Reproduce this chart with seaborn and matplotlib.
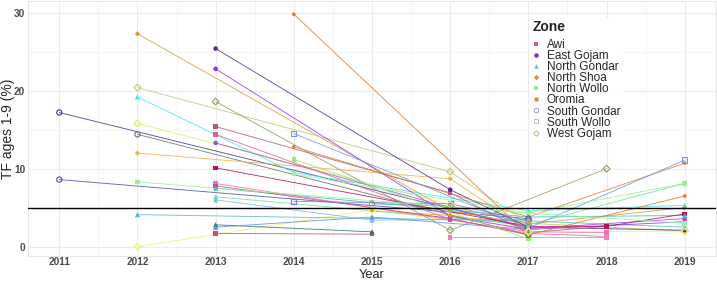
import matplotlib
matplotlib.use("Agg")
import matplotlib.pyplot as plt
from matplotlib.lines import Line2D
from matplotlib.ticker import MultipleLocator
import seaborn as sns
import pandas as pd

# ---------------- data ----------------
district = ["SG1", "SG2", "SG3", "SG4", "NS1", "NS2", "NS3", "WG1", "WG2", "WG3", "WG4",
            "NG1", "NG2", "NG3", "NG4", "NG5", "NG6", "NG7", "EG1", "EG2", "EG3",
            "AW1", "AW2", "AW3", "AW4", "AW5", "AW6", "AW7", "OR1", "OR2", "SW1", "SW2",
            "NW1", "NW2", "NW3"]
zone = ["South Gondar", "South Gondar", "South Gondar", "South Gondar",
        "North Shoa", "North Shoa", "North Shoa",
        "West Gojam", "West Gojam", "West Gojam", "West Gojam",
        "North Gondar", "North Gondar", "North Gondar", "North Gondar", "North Gondar",
        "North Gondar", "North Gondar",
        "East Gojam", "East Gojam", "East Gojam",
        "Awi", "Awi", "Awi", "Awi", "Awi", "Awi", "Awi",
        "Oromia", "Oromia", "South Wollo", "South Wollo",
        "North Wollo", "North Wollo", "North Wollo"]
years = [[2011, 2017], [2011, 2017], [2012, 2017], [2015, 2016, 2017],
         [2012, 2016, 2017, 2019], [2012, 2016, 2017], [2015, 2016, 2017],
         [2012, 2016, 2017, 2019], [2012, 2016, 2017], [2012, 2015, 2017, 2019], [2013, 2016, 2018],
         [2012, 2014, 2017, 2019], [2012, 2017, 2019], [2013, 2017, 2019], [2013, 2017, 2019],
         [2013, 2015, 2017], [2013, 2015], [2013, 2015, 2017],
         [2013, 2016, 2017, 2019], [2013, 2016, 2017, 2019], [2013, 2016, 2017, 2019],
         [2013, 2016, 2017, 2018], [2013, 2016, 2017, 2018], [2013, 2017, 2018, 2019],
         [2013, 2017, 2018], [2013, 2016, 2017], [2013, 2015], [2016, 2018],
         [2014, 2017, 2019], [2014, 2017, 2019], [2014, 2017, 2019], [2014, 2016, 2017],
         [2012, 2017, 2019], [2014, 2017], [2014, 2017, 2019]]
values = [[17.2, 2.4], [8.6, 3.6], [14.4, 1.5], [5.5, 5.2, 3.0],
          [27.3, 4.6, 2.9, 5.0], [12.0, 8.7, 2.1], [4.6, 4.0, 2.6],
          [20.4, 9.6, 3.0, 2.0], [15.8, 5.4, 1.8], [0.0, 4.7, 2.0, 1.9], [18.6, 2.1, 10.0],
          [19.2, 9.5, 4.6, 5.3], [4.1, 3.3, 2.5], [7.5, 3.8, 4.0], [6.4, 2.8, 8.1],
          [6.0, 3.4, 3.5], [2.8, 1.9], [2.5, 3.8, 2.2],
          [25.4, 7.3, 2.5, 2.1], [22.8, 3.9, 2.2, 3.2], [13.3, 5.0, 2.3, 3.6],
          [15.4, 6.9, 1.8, 2.6], [14.4, 3.5, 1.7, 1.3], [10.1, 2.6, 2.6, 4.2],
          [8.1, 1.9, 1.8], [7.8, 3.6, 1.5], [1.7, 1.6], [1.2, 1.2],
          [29.8, 1.5, 6.5], [12.8, 3.8, 10.7], [14.5, 2.4, 11.1], [5.8, 5.5, 3.3],
          [8.3, 4.3, 8.1], [11.2, 1.0], [9.3, 4.3, 3.0]]
zones = ["Awi", "East Gojam", "North Gondar", "North Shoa", "North Wollo",
         "Oromia", "South Gondar", "South Wollo", "West Gojam"]
threshold = 5

# ---------------- styles ----------------
district_colors = {
    "SG1": "#3A3A8E", "SG2": "#50509C", "SG3": "#6E6E62", "SG4": "#8484B8",
    "NS1": "#D4A030", "NS2": "#F0B040", "NS3": "#E8A000",
    "WG1": "#BEC86C", "WG2": "#DDEE55", "WG3": "#EEF070", "WG4": "#9A9A60",
    "NG1": "#40E8F0", "NG2": "#50C0C8", "NG3": "#40C0B0", "NG4": "#70E0A0",
    "NG5": "#80B8F0", "NG6": "#2E7070", "NG7": "#6090E0",
    "EG1": "#5A2A8A", "EG2": "#9A30F0", "EG3": "#A050E0",
    "AW1": "#B05A88", "AW2": "#E060A0", "AW3": "#B0105E", "AW4": "#F070B0",
    "AW5": "#D04A90", "AW6": "#C05080", "AW7": "#F080C0",
    "OR1": "#E87820", "OR2": "#E08030", "SW1": "#6A98F0", "SW2": "#7A80D0",
    "NW1": "#98F090", "NW2": "#90EE70", "NW3": "#A0F0A0",
}
zone_colors = {
    "Awi": "#E0559A", "East Gojam": "#8A2BE2", "North Gondar": "#5CCFC8",
    "North Shoa": "#D4A030", "North Wollo": "#90EE90", "Oromia": "#F08A30",
    "South Gondar": "#9090C0", "South Wollo": "#A0B8F0", "West Gojam": "#B0B080",
}
zone_markers = {
    "Awi": ("s", True, 11), "East Gojam": ("o", True, 11), "North Gondar": ("^", True, 14),
    "North Shoa": ("D", True, 7), "North Wollo": ("s", True, 11), "Oromia": ("o", True, 7),
    "South Gondar": ("o", False, 14), "South Wollo": ("s", False, 14), "West Gojam": ("D", False, 12),
}

rows = []
for d, z, ys, vs in zip(district, zone, years, values):
    for y, v in zip(ys, vs):
        rows.append({"district": d, "zone": z, "year": y, "value": v})
df = pd.DataFrame(rows)

sns.set_theme(style="whitegrid")
plt.rcParams["font.family"] = ["Liberation Sans", "DejaVu Sans"]

fig = plt.figure(figsize=(7.17, 2.83), dpi=100)
ax = fig.add_axes([28 / 717, 1 - 256 / 283, 688 / 717, 255 / 283])

sns.lineplot(data=df, x="year", y="value", hue="district", palette=district_colors,
             units="district", estimator=None, linewidth=0.65, alpha=0.85,
             legend=False, ax=ax, sort=True)

for z in zones:
    sub = df[df["zone"] == z]
    m, filled, s = zone_markers[z]
    sns.scatterplot(data=sub, x="year", y="value", hue="district", palette=district_colors,
                    marker=m, s=s, linewidth=0 if filled else 0.8, legend=False, ax=ax, zorder=3)
    coll = ax.collections[-1]
    if not filled:
        fc = coll.get_facecolors()
        coll.set_edgecolors(fc)
        coll.set_facecolors("none")

ax.axhline(threshold, color="black", linewidth=1.0, zorder=4)

ax.set_xlim(2010.6, 2019.4)
ax.set_ylim(-1.2, 31.5)
ax.set_xticks(range(2011, 2020))
ax.set_yticks([0, 10, 20, 30])
ax.xaxis.set_minor_locator(MultipleLocator(0.5))
ax.yaxis.set_minor_locator(MultipleLocator(5))
ax.grid(which="major", color="#EBEBEB", linewidth=0.8)
ax.grid(which="minor", color="#F4F4F4", linewidth=0.6)
ax.set_axisbelow(True)
for sp in ax.spines.values():
    sp.set_color("#E6E6E6")
    sp.set_linewidth(0.8)
ax.tick_params(axis="both", which="both", length=0, pad=2)
ax.tick_params(axis="x", pad=1)
for lab in ax.get_xticklabels() + ax.get_yticklabels():
    lab.set_fontsize(7.3)
    lab.set_fontweight("bold")
    lab.set_color("#4D4D4D")
ax.set_xlabel("Year", fontsize=9.2)
ax.set_ylabel("TF ages 1-9 (%)", fontsize=10)
ax.xaxis.set_label_coords((372 - 28) / 688, (256 - 269) / 255)
ax.yaxis.set_label_coords((15 - 28) / 688, 0.5)

handles = []
for z in zones:
    m, filled, s = zone_markers[z]
    c = zone_colors[z]
    handles.append(Line2D([], [], linestyle="none", marker=m,
                          markersize=3.3 if m != "D" else 2.8,
                          markerfacecolor=c if filled else "none",
                          markeredgecolor=c, markeredgewidth=0.6 if not filled else 0))
leg = ax.legend(handles, zones, title="Zone", loc="upper left",
                bbox_to_anchor=(530 / 717, 1 - 18 / 283), bbox_transform=fig.transFigure,
                frameon=True, facecolor="white", edgecolor="white", framealpha=1,
                fontsize=8.5, title_fontsize=10, handlelength=0.6, handletextpad=0.6,
                labelspacing=-0.08, borderpad=0.2, borderaxespad=0)
leg.get_title().set_fontweight("bold")
leg._legend_box.align = "left"
leg._legend_box.sep = 3.5

fig.savefig("out.png", dpi=100)
